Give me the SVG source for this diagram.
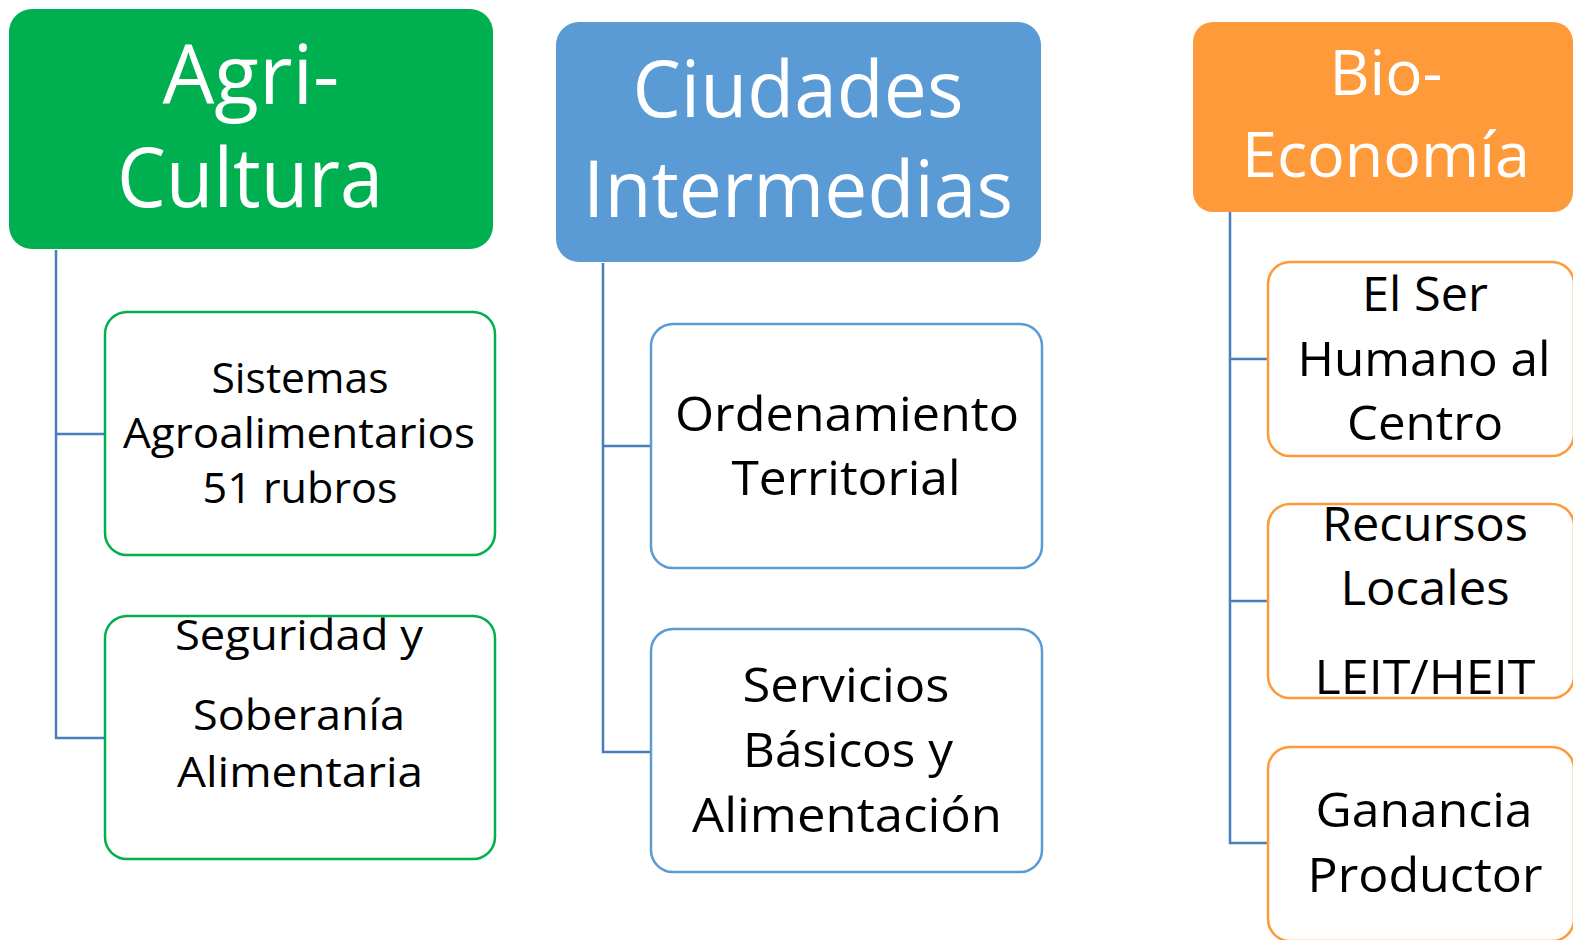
<svg xmlns="http://www.w3.org/2000/svg" width="1573" height="940" viewBox="0 0 1573 940">
<style>
text{font-family:"Open Sans","Noto Sans","Liberation Sans",sans-serif;text-anchor:middle}
.hd text{fill:#FFFFFF}
.sb text{fill:#000000}
.conn{fill:none;stroke:#4A7EBB;stroke-width:2.5}
.g{fill:#FFFFFF;stroke:#00B050;stroke-width:2.5}
.b{fill:#FFFFFF;stroke:#5B9BD5;stroke-width:2.5}
.o{fill:#FFFFFF;stroke:#FF9A3A;stroke-width:2.5}
</style>
<rect width="1573" height="940" fill="#FFFFFF"/>
<g id="connectors">
<path class="conn" d="M56,250 V738 H104 M56,434 H104"/>
<path class="conn" d="M603,263 V752 H651 M603,446 H651"/>
<path class="conn" d="M1230,212 V843 H1268 M1230,359 H1268 M1230,601 H1268"/>
</g>
<g id="agricultura" class="hd">
<rect x="9" y="9" width="484" height="240" rx="23" fill="#00B050"/>
<text x="251" y="104" font-size="82" textLength="177" lengthAdjust="spacingAndGlyphs">Agri-</text>
<text x="250" y="207" font-size="82" textLength="266" lengthAdjust="spacingAndGlyphs">Cultura</text>
</g>
<g id="sistemas" class="sb">
<rect class="g" x="105" y="312" width="390" height="243" rx="22"/>
<text x="300" y="393" font-size="42" textLength="177" lengthAdjust="spacingAndGlyphs">Sistemas</text>
<text x="299" y="448" font-size="42" textLength="352" lengthAdjust="spacingAndGlyphs">Agroalimentarios</text>
<text x="300" y="503" font-size="42" textLength="195" lengthAdjust="spacingAndGlyphs">51 rubros</text>
</g>
<g id="seguridad" class="sb">
<rect class="g" x="105" y="616" width="390" height="243" rx="22"/>
<text x="299" y="650" font-size="42" textLength="248" lengthAdjust="spacingAndGlyphs">Seguridad y</text>
<text x="299" y="730" font-size="42" textLength="212" lengthAdjust="spacingAndGlyphs">Soberanía</text>
<text x="300" y="787" font-size="42" textLength="246" lengthAdjust="spacingAndGlyphs">Alimentaria</text>
</g>
<g id="ciudades" class="hd">
<rect x="556" y="22" width="485" height="240" rx="23" fill="#5B9BD5"/>
<text x="798" y="117" font-size="78" textLength="331" lengthAdjust="spacingAndGlyphs">Ciudades</text>
<text x="798" y="217" font-size="78" textLength="430" lengthAdjust="spacingAndGlyphs">Intermedias</text>
</g>
<g id="ordenamiento" class="sb">
<rect class="b" x="651" y="324" width="391" height="244" rx="22"/>
<text x="847" y="431" font-size="47" textLength="344" lengthAdjust="spacingAndGlyphs">Ordenamiento</text>
<text x="846" y="495" font-size="47" textLength="229" lengthAdjust="spacingAndGlyphs">Territorial</text>
</g>
<g id="servicios" class="sb">
<rect class="b" x="651" y="629" width="391" height="243" rx="22"/>
<text x="846" y="702" font-size="47" textLength="207" lengthAdjust="spacingAndGlyphs">Servicios</text>
<text x="848" y="767" font-size="47" textLength="210" lengthAdjust="spacingAndGlyphs">Básicos y</text>
<text x="847" y="832" font-size="47" textLength="310" lengthAdjust="spacingAndGlyphs">Alimentación</text>
</g>
<g id="bioeconomia" class="hd">
<rect x="1193" y="22" width="380" height="190" rx="20" fill="#FF9A3A"/>
<text x="1386" y="95" font-size="63" textLength="113" lengthAdjust="spacingAndGlyphs">Bio-</text>
<text x="1386" y="177" font-size="63" textLength="288" lengthAdjust="spacingAndGlyphs">Economía</text>
</g>
<g id="serhumano" class="sb">
<rect class="o" x="1268" y="262" width="306" height="194" rx="22"/>
<text x="1425" y="311" font-size="47" textLength="126" lengthAdjust="spacingAndGlyphs">El Ser</text>
<text x="1424" y="376" font-size="47" textLength="253" lengthAdjust="spacingAndGlyphs">Humano al</text>
<text x="1425" y="440" font-size="47" textLength="156" lengthAdjust="spacingAndGlyphs">Centro</text>
</g>
<g id="recursos" class="sb">
<rect class="o" x="1268" y="504" width="306" height="194" rx="22"/>
<text x="1425" y="541" font-size="47" textLength="206" lengthAdjust="spacingAndGlyphs">Recursos</text>
<text x="1425" y="605" font-size="47" textLength="169" lengthAdjust="spacingAndGlyphs">Locales</text>
<text x="1425" y="694" font-size="47" textLength="221" lengthAdjust="spacingAndGlyphs">LEIT/HEIT</text>
</g>
<g id="ganancia" class="sb">
<rect class="o" x="1268" y="747" width="306" height="194" rx="22"/>
<text x="1424" y="827" font-size="47" textLength="217" lengthAdjust="spacingAndGlyphs">Ganancia</text>
<text x="1425" y="892" font-size="47" textLength="235" lengthAdjust="spacingAndGlyphs">Productor</text>
</g>
</svg>
